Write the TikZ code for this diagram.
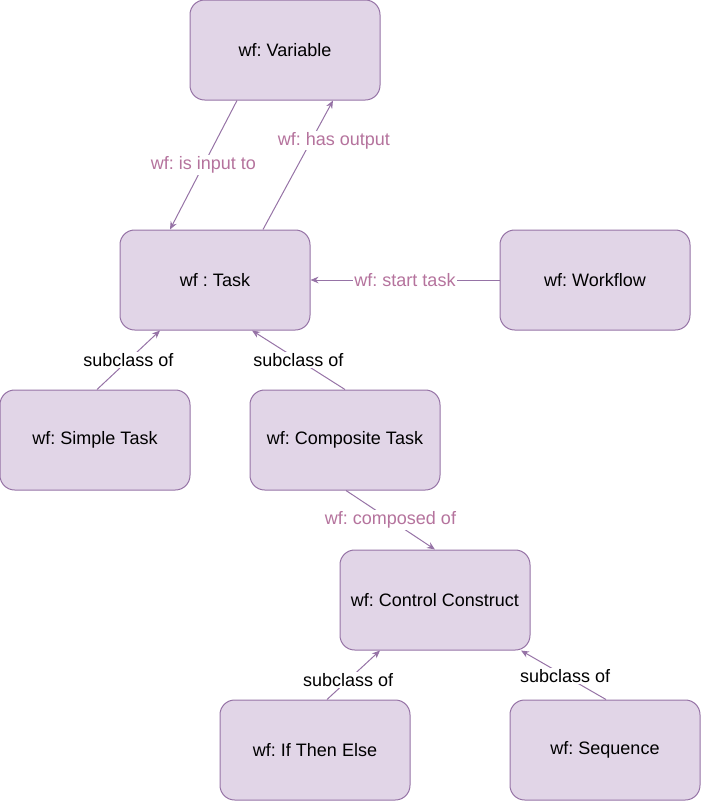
\documentclass[tikz,border=0pt]{standalone}
\usepackage{fontspec}
\setmainfont{Liberation Sans}
\usetikzlibrary{arrows.meta,calc}
\frenchspacing

\definecolor{boxfill}{HTML}{E1D5E7}
\definecolor{boxline}{HTML}{9673A6}
\definecolor{lblpink}{HTML}{B5739D}

\tikzset{
  box/.style={draw=boxline, fill=boxfill, rounded corners=11pt, line width=0.75pt,
    minimum width=142.5pt, minimum height=75pt, inner sep=0pt, font=\fontsize{13.5}{16}\selectfont},
  link/.style={draw=boxline, line width=0.75pt, -{Stealth[length=6pt,width=5pt]}},
  lbl/.style={fill=white, inner sep=1pt, text=lblpink, font=\fontsize{13.5}{16}\selectfont},
  sublbl/.style={fill=white, inner sep=1pt, font=\fontsize{13.5}{16}\selectfont}
}

\begin{document}
\begin{tikzpicture}[x=0.75pt, y=-0.75pt]
  \useasboundingbox (0, 0) rectangle (701, 801);

  % classes
  \node[box] (var) at (285, 50) {wf: Variable};
  \node[box] (task) at (215, 280) {wf : Task};
  \node[box] (wflow) at (595, 280) {wf: Workflow};
  \node[box] (simple) at (95, 440) {wf: Simple Task};
  \node[box] (comp) at (345, 440) {wf: Composite Task};
  \node[box] (ctrl) at (435, 600) {wf: Control Construct};
  \node[box] (ite) at (315, 750) {wf: If Then Else};
  \node[box] (seq) at (605, 750) {wf: Sequence};

  % properties
  \draw[link] ($(var.south)+(-48, 0)$) -- ($(task.north)+(-45, 0)$)
    node[lbl, midway] {wf: is input to};
  \draw[link] ($(task.north)+(48, 0)$) -- ($(var.south)+(48, 0)$)
    node[lbl, pos=0.69, xshift=17pt] {wf: has output};
  \draw[link] (wflow.west) -- (task.east)
    node[lbl, midway] {wf: start task};
  \draw[link] ($(comp.south)+(1, 0)$) -- (ctrl.north)
    node[lbl, midway] {wf: composed of};

  % subclasses
  \draw[link] ($(simple.north)+(2, 0)$) -- ($(task.south)+(-55, 0)$)
    node[sublbl, midway] {subclass of};
  \draw[link] (comp.north) -- ($(task.south)+(37, 0)$)
    node[sublbl, midway] {subclass of};
  \draw[link] ($(ite.north)+(12, 0)$) -- ($(ctrl.south)+(-55, 0)$)
    node[sublbl, pos=0.4] {subclass of};
  \draw[link] ($(seq.north)+(1, 0)$) -- ($(ctrl.south)+(86, 0)$)
    node[sublbl, pos=0.48] {subclass of};
\end{tikzpicture}
\end{document}
